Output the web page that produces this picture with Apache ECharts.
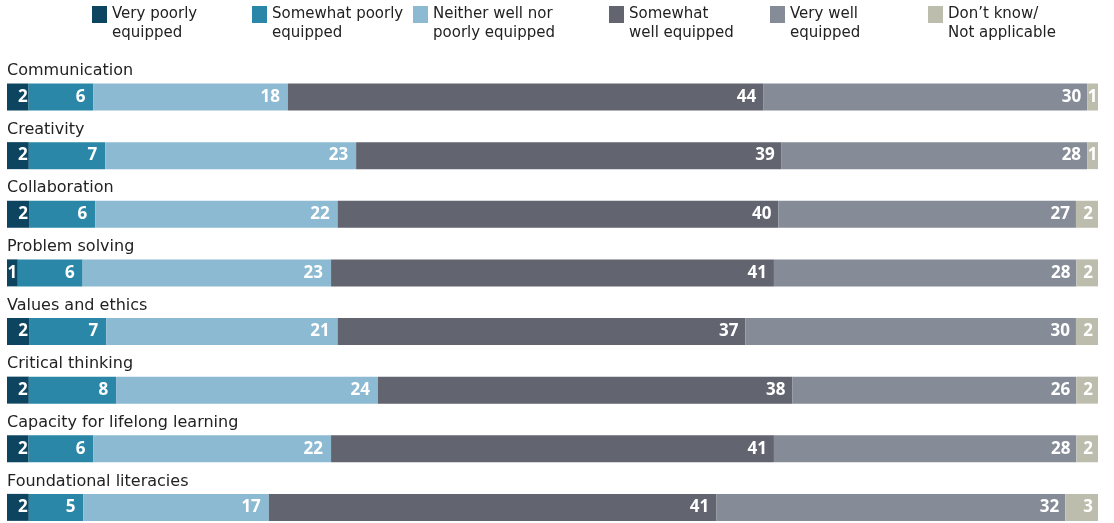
<!DOCTYPE html>
<html>
<head>
<meta charset="utf-8">
<style>
  html, body { margin: 0; padding: 0; background: #fff; }
  #chart { width: 1114px; height: 523px; }
</style>
<script src="https://cdn.jsdelivr.net/npm/echarts@6/dist/echarts.min.js"></script>
</head>
<body>
<div id="chart"></div>
<script>
// Skills and how well respondents feel equipped for each (percent of respondents)
const categories = [
  'Communication',
  'Creativity',
  'Collaboration',
  'Problem solving',
  'Values and ethics',
  'Critical thinking',
  'Capacity for lifelong learning',
  'Foundational literacies'
];
const veryPoorly     = [2, 2, 2, 1, 2, 2, 2, 2];
const somewhatPoorly = [6, 7, 6, 6, 7, 8, 6, 5];
const neither        = [18, 23, 22, 23, 21, 24, 22, 17];
const somewhatWell   = [44, 39, 40, 41, 37, 38, 41, 41];
const veryWell       = [30, 28, 27, 28, 30, 26, 28, 32];
const dontKnow       = [1, 1, 2, 2, 2, 2, 2, 3];

const seriesNames = [
  'Very poorly equipped',
  'Somewhat poorly equipped',
  'Neither well nor poorly equipped',
  'Somewhat well equipped',
  'Very well equipped',
  'Don\u2019t know/Not applicable'
];
const legendLabels = [
  'Very poorly\nequipped',
  'Somewhat poorly\nequipped',
  'Neither well nor\npoorly equipped',
  'Somewhat\nwell equipped',
  'Very well\nequipped',
  'Don\u2019t know/\nNot applicable'
];
const seriesValues = [veryPoorly, somewhatPoorly, neither, somewhatWell, veryWell, dontKnow];
const colors = ['#0d4560', '#2a87a8', '#8dbad3', '#626570', '#868c97', '#bdbdae'];
const legendLeft = [92, 252, 413, 609, 770, 928];
const labelDistance = [1, 8, 8, 7, 6, 5];

// Each row is drawn as a 100% bar: segment share of the row total
const rowTotals = categories.map((_, i) => seriesValues.reduce((s, arr) => s + arr[i], 0));

const series = seriesNames.map((name, k) => ({
  name: name,
  type: 'bar',
  stack: 'total',
  barWidth: 27,
  itemStyle: { color: colors[k] },
  emphasis: { disabled: true },
  label: {
    show: true,
    position: 'insideRight',
    distance: labelDistance[k],
    color: '#fff',
    fontFamily: 'Open Sans',
    fontWeight: 'bold',
    fontSize: 17,
    formatter: p => String(p.data.raw)
  },
  data: seriesValues[k].map((v, i) => {
    const item = { value: v / rowTotals[i] * 100, raw: v };
    // single-point segments are too narrow for a right-aligned label
    if (v <= 1) item.label = { position: 'inside' };
    return item;
  })
}));

const legends = seriesNames.map((name, k) => ({
  data: [name],
  left: legendLeft[k],
  top: -14,
  padding: 0,
  icon: 'rect',
  itemWidth: 15,
  itemHeight: 17,
  itemGap: 0,
  selectedMode: false,
  // leading blank line keeps the swatch level with the first text line
  formatter: () => '\n' + legendLabels[k],
  textStyle: {
    fontFamily: 'DejaVu Sans',
    fontSize: 15,
    lineHeight: 19,
    color: '#222'
  }
}));

const chart = echarts.init(document.getElementById('chart'), null, { renderer: 'canvas' });
chart.setOption({
  animation: false,
  backgroundColor: '#fff',
  color: colors,
  legend: legends,
  grid: { left: 7, right: 16, top: 67.7, height: 469, outerBoundsMode: 'none', containLabel: false },
  xAxis: {
    type: 'value',
    min: 0,
    max: 100,
    show: false
  },
  yAxis: {
    type: 'category',
    inverse: true,
    data: categories,
    axisLine: { show: false },
    axisTick: { show: false },
    axisLabel: {
      inside: true,
      margin: 0,
      align: 'left',
      verticalAlign: 'bottom',
      padding: [0, 0, 16, 0],
      fontFamily: 'DejaVu Sans',
      fontSize: 16,
      lineHeight: 20,
      color: '#222',
      interval: 0
    }
  },
  series: series
});
</script>
</body>
</html>
